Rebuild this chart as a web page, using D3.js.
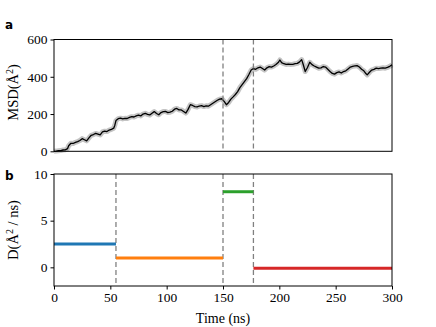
<!DOCTYPE html>
<html>
<head>
<meta charset="utf-8">
<script src="https://cdn.jsdelivr.net/npm/d3@7"></script>
<style>
  body { margin: 0; background: #fff; }
  text { font-family: "Liberation Serif", serif; }
</style>
</head>
<body>
<div id="chart"></div>
<script>
// MSD trace (time in ns, MSD in A^2)
const msdTime = [0,2,4,6,8,10,12,13,15,17,19,21,23,25,27,29,31,33,35,37,39,41,43,45,47,49,51,53,54,55,57,59,61,63,65,67,69,71,73,75,77,79,81,83,85,87,89,91,93,95,97,99,101,103,105,107,109,111,113,115,117,119,121,123,125,127,129,131,133,135,137,139,141,143,145,147,149,151,153,155,157,159,161,163,165,167,169,171,173,175,177,179,181,183,185,187,189,191,193,195,197,199,200.5,202,204,206,208,210,212,214,216,218,219.8,221,223,225,227,229,231,233,235,237,239,241,243,245,247,249,251,253,255,257,259,261,263,265,267,269,271,273,275,277,278,280,282,284,286,288,290,292,294,296,298,300];
const msdValue = [0,1,3,4,7,8,14,30,43,42,48,52,58,68,62,56,72,86,90,96,92,88,104,108,106,114,118,124,140,165,175,178,174,177,176,182,186,184,190,194,190,200,204,198,195,204,213,203,196,208,213,214,208,210,215,226,230,222,222,214,205,225,250,246,240,238,243,245,240,244,242,250,258,266,274,280,282,268,250,262,280,292,305,320,342,358,374,390,412,436,444,440,448,452,444,436,448,454,452,458,466,476,490,476,470,466,468,466,467,470,472,480,492,470,428,450,478,465,458,452,446,448,455,452,440,428,418,414,422,426,420,428,432,442,452,456,458,460,452,440,432,416,410,424,436,440,446,444,446,448,446,450,456,464];

// diffusion coefficient segments
const segStart = [0, 55, 150, 177];
const segEnd = [55, 150, 177, 300];
const segD = [2.5, 1.0, 8.1, -0.1];
const segColors = ["#1f77b4", "#ff7f0e", "#2ca02c", "#d62728"];

const breaksA = [150, 177];
const breaksB = [55, 150, 177];

const xTicks = [0, 50, 100, 150, 200, 250, 300];
const yTicksA = [0, 200, 400, 600];
const yTicksB = [0, 5, 10];

const width = 436, height = 327;
const left = 54, right = 392;

const svg = d3.select("#chart").append("svg")
  .attr("width", width)
  .attr("height", height);

const x = d3.scaleLinear().domain([0, 300]).range([left, right]);
const yA = d3.scaleLinear().domain([0, 600]).range([151.3, 39.5]);
const yB = d3.scaleLinear().domain([-2, 10]).range([286, 174]);

const fontSize = "13.5px";

function styleAxis(g) {
  g.select(".domain").remove();
  g.attr("font-family", "Liberation Serif").attr("font-size", 13.5);
  g.selectAll("text").style("font-family", "Liberation Serif").style("font-size", fontSize).attr("fill", "#000");
}

// ---- panel a ----
const msd = msdTime.map((t, i) => ({t, v: msdValue[i]}));
const line = d3.line().x(d => x(d.t)).y(d => yA(d.v));

svg.append("path")
  .datum(msd)
  .attr("fill", "none")
  .attr("stroke", "#c4c4c4")
  .attr("stroke-width", 5)
  .attr("stroke-linejoin", "round")
  .attr("d", line);

svg.append("path")
  .datum(msd)
  .attr("fill", "none")
  .attr("stroke", "#000")
  .attr("stroke-width", 1.3)
  .attr("stroke-linejoin", "round")
  .attr("d", line);

breaksA.forEach(b => {
  svg.append("line")
    .attr("x1", x(b)).attr("x2", x(b))
    .attr("y1", yA(600)).attr("y2", yA(0))
    .attr("stroke", "#808080")
    .attr("stroke-width", 1.3)
    .attr("stroke-dasharray", "5,3");
});

svg.append("rect")
  .attr("x", left).attr("y", yA(600))
  .attr("width", right - left).attr("height", yA(0) - yA(600))
  .attr("fill", "none").attr("stroke", "#000").attr("stroke-width", 1);

svg.append("g")
  .attr("transform", `translate(${left},0)`)
  .call(d3.axisLeft(yA).tickValues(yTicksA).tickSize(3.5).tickPadding(3))
  .call(styleAxis);

// ---- panel b ----
breaksB.forEach(b => {
  svg.append("line")
    .attr("x1", x(b)).attr("x2", x(b))
    .attr("y1", yB(10)).attr("y2", yB(-2))
    .attr("stroke", "#808080")
    .attr("stroke-width", 1.3)
    .attr("stroke-dasharray", "5,3");
});

svg.selectAll(".seg")
  .data(segD)
  .enter().append("line")
  .attr("class", "seg")
  .attr("x1", (d, i) => x(segStart[i]))
  .attr("x2", (d, i) => x(segEnd[i]))
  .attr("y1", d => yB(d))
  .attr("y2", d => yB(d))
  .attr("stroke", (d, i) => segColors[i])
  .attr("stroke-width", 3);

svg.append("rect")
  .attr("x", left).attr("y", yB(10))
  .attr("width", right - left).attr("height", yB(-2) - yB(10))
  .attr("fill", "none").attr("stroke", "#000").attr("stroke-width", 1);

svg.append("g")
  .attr("transform", `translate(${left},0)`)
  .call(d3.axisLeft(yB).tickValues(yTicksB).tickSize(3.5).tickPadding(3))
  .call(styleAxis);

svg.append("g")
  .attr("transform", `translate(0,${yB(-2)})`)
  .call(d3.axisBottom(x).tickValues(xTicks).tickSize(3.5).tickPadding(3))
  .call(styleAxis);

// ---- labels ----
svg.append("text")
  .attr("x", 223).attr("y", 323)
  .attr("text-anchor", "middle")
  .style("font-size", "14px")
  .text("Time (ns)");

const labA = svg.append("text")
  .attr("transform", `translate(18,${(yA(0) + yA(600)) / 2 - 3}) rotate(-90)`)
  .attr("text-anchor", "middle")
  .style("font-size", "14.5px");
labA.append("tspan").text("MSD(Å");
labA.append("tspan").attr("dy", -5).style("font-size", "10px").text("2");
labA.append("tspan").attr("dy", 5).text(")");

const labB = svg.append("text")
  .attr("transform", `translate(18,${(yB(-2) + yB(10)) / 2}) rotate(-90)`)
  .attr("text-anchor", "middle")
  .style("font-size", "14.5px");
labB.append("tspan").text("D(Å");
labB.append("tspan").attr("dy", -5).style("font-size", "10px").text("2");
labB.append("tspan").attr("dy", 5).text(" / ns)");

svg.append("text")
  .attr("x", 5).attr("y", 29)
  .style("font-family", "DejaVu Sans")
  .style("font-weight", "bold")
  .style("font-size", "12px")
  .text("a");

svg.append("text")
  .attr("x", 5).attr("y", 180)
  .style("font-family", "DejaVu Sans")
  .style("font-weight", "bold")
  .style("font-size", "12px")
  .text("b");
</script>
</body>
</html>
